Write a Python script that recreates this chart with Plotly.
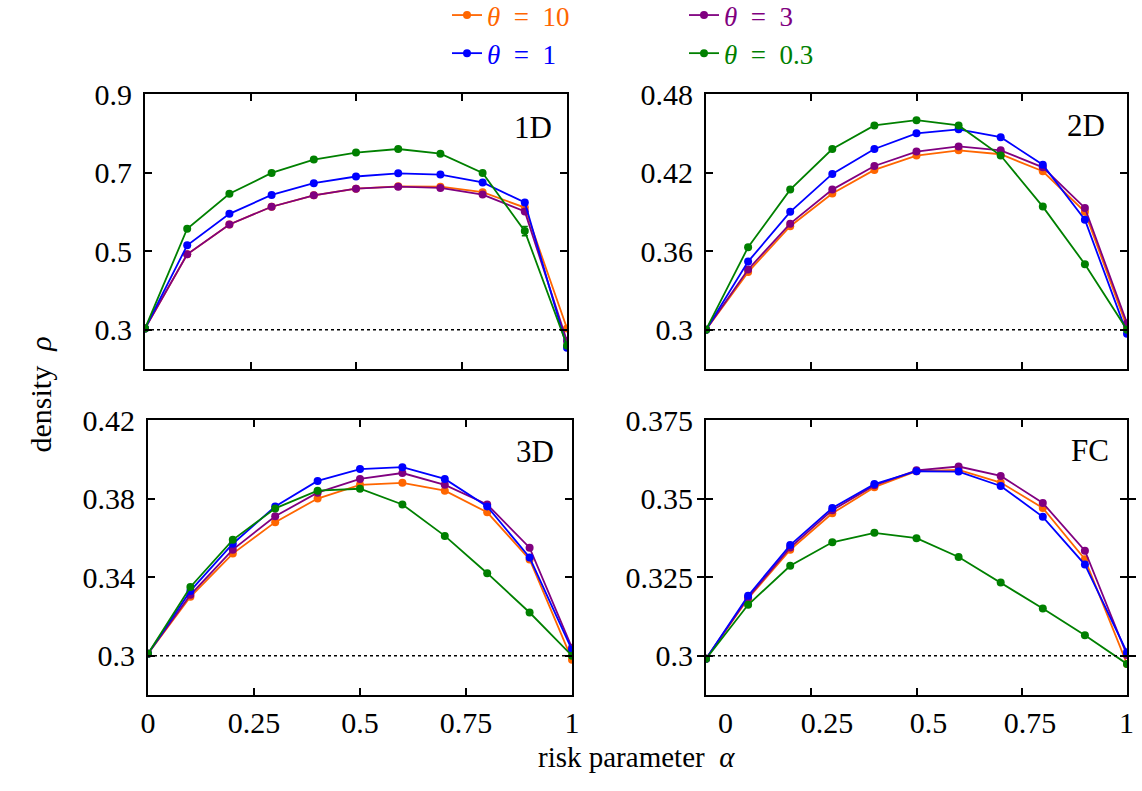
import plotly.graph_objects as go

W, H = 1142, 791

alpha = [0.0, 0.1, 0.2, 0.3, 0.4, 0.5, 0.6, 0.7, 0.8, 0.9, 1.0]

# 1D
d1_t10 = [0.303, 0.492, 0.568, 0.613, 0.642, 0.659, 0.665, 0.664, 0.650, 0.611, 0.303]
d1_t3 = [0.303, 0.492, 0.568, 0.613, 0.642, 0.659, 0.664, 0.661, 0.644, 0.601, 0.271]
d1_t1 = [0.303, 0.515, 0.595, 0.643, 0.673, 0.690, 0.698, 0.695, 0.675, 0.624, 0.254]
d1_t03 = [0.303, 0.557, 0.646, 0.699, 0.733, 0.751, 0.760, 0.748, 0.699, 0.551, 0.260]
d1_t03_err = [None, None, None, None, None, None, None, None, None, 0.012, None]

# 2D
d2_t10 = [0.300, 0.344, 0.379, 0.404, 0.422, 0.433, 0.437, 0.434, 0.421, 0.390, 0.302]
d2_t3 = [0.300, 0.346, 0.381, 0.407, 0.425, 0.436, 0.440, 0.437, 0.424, 0.393, 0.305]
d2_t1 = [0.300, 0.352, 0.390, 0.419, 0.438, 0.450, 0.453, 0.447, 0.426, 0.384, 0.297]
d2_t03 = [0.300, 0.363, 0.407, 0.438, 0.456, 0.460, 0.456, 0.433, 0.394, 0.350, 0.300]

# 3D
d3_t10 = [0.301, 0.330, 0.352, 0.368, 0.380, 0.387, 0.388, 0.384, 0.373, 0.349, 0.298]
d3_t3 = [0.301, 0.331, 0.354, 0.371, 0.383, 0.390, 0.393, 0.387, 0.377, 0.355, 0.304]
d3_t1 = [0.301, 0.333, 0.357, 0.376, 0.389, 0.395, 0.396, 0.390, 0.376, 0.350, 0.303]
d3_t03 = [0.301, 0.335, 0.359, 0.375, 0.384, 0.385, 0.377, 0.361, 0.342, 0.322, 0.300]

# FC
fc_t10 = [0.299, 0.3182, 0.3337, 0.3453, 0.3536, 0.3587, 0.3591, 0.3551, 0.3470, 0.3307, 0.2974]
fc_t3 = [0.299, 0.3185, 0.3344, 0.3463, 0.3542, 0.3590, 0.3602, 0.3572, 0.3486, 0.3334, 0.3002]
fc_t1 = [0.299, 0.3191, 0.3352, 0.3470, 0.3546, 0.3587, 0.3586, 0.3540, 0.3442, 0.3290, 0.3011]
fc_t03 = [0.299, 0.3162, 0.3286, 0.3361, 0.3391, 0.3374, 0.3314, 0.3233, 0.3150, 0.3065, 0.2974]

panel_labels = ["1D", "2D", "3D", "FC"]
x_ticks = [0, 0.25, 0.5, 0.75, 1]
x_ticktext = ["0", "0.25", "0.5", "0.75", "1"]
# the FC panel's labels in the reference are slightly shifted from its tick marks
fc_label_vals = [0, 0.25, 0.5, 0.75, 0.988]
y_ticks = [[0.3, 0.5, 0.7, 0.9], [0.3, 0.36, 0.42, 0.48],
           [0.3, 0.34, 0.38, 0.42], [0.3, 0.325, 0.35, 0.375]]
y_ticktext = [["0.3", "0.5", "0.7", "0.9"], ["0.3", "0.36", "0.42", "0.48"],
              ["0.3", "0.34", "0.38", "0.42"], ["0.3", "0.325", "0.35", "0.375"]]
y_ranges = [[0.2, 0.9], [0.27, 0.48], [0.28, 0.42], [0.2875, 0.375]]

theta_names = ["10", "3", "1", "0.3"]
colors = ["#ff6600", "#800080", "#0000ff", "#008000"]
legend_ids = ["legend", "legend2", "legend", "legend2"]

panels = [
    [d1_t10, d1_t3, d1_t1, d1_t03],
    [d2_t10, d2_t3, d2_t1, d2_t03],
    [d3_t10, d3_t3, d3_t1, d3_t03],
    [fc_t10, fc_t3, fc_t1, fc_t03],
]

FONT = "Liberation Serif"
TICK_SIZE = 30
SP = "\u2002"


def px_x(a, b):
    return [a / W, b / W]


def px_y(top, bottom):
    return [1 - bottom / H, 1 - top / H]


x_domains = [px_x(145, 567), px_x(706, 1127), px_x(148, 572), px_x(706, 1127)]
y_domains = [px_y(94, 369), px_y(94, 369), px_y(420, 695), px_y(420, 695)]
label_pos = [(0.97, 0.88), (0.952, 0.885), (0.962, 0.885), (0.962, 0.89)]

fig = go.Figure()

for p, series in enumerate(panels):
    xa = "x" if p == 0 else f"x{p+1}"
    ya = "y" if p == 0 else f"y{p+1}"
    for s, vals in enumerate(series):
        err = None
        if p == 0 and s == 3:
            err = dict(type="data", array=d1_t03_err, visible=True,
                       color=colors[s], thickness=1.5, width=3)
        fig.add_trace(go.Scatter(
            x=alpha, y=vals, xaxis=xa, yaxis=ya,
            mode="lines+markers",
            line=dict(color=colors[s], width=1.8),
            marker=dict(color=colors[s], size=8),
            error_y=err,
            name=f'<span style="color:{colors[s]}"><i>θ</i>{SP}={SP}{theta_names[s]}</span>',
            legend=legend_ids[s],
            showlegend=(p == 0),
        ))

# empty carrier so the FC label axis (overlaying x4) is drawn
fig.add_trace(go.Scatter(x=[], y=[], xaxis="x5", yaxis="y4", showlegend=False,
                         hoverinfo="skip"))

axis_common = dict(
    showline=True, linecolor="black", linewidth=2, mirror="allticks",
    ticks="inside", ticklen=7, tickwidth=1.5, tickcolor="black",
    showgrid=False, zeroline=False,
    tickfont=dict(family=FONT, size=TICK_SIZE, color="black"),
)

layout = dict(
    width=W, height=H,
    margin=dict(l=0, r=0, t=0, b=0, autoexpand=False),
    paper_bgcolor="white", plot_bgcolor="white",
    font=dict(family=FONT, size=TICK_SIZE, color="black"),
)

for p in range(4):
    xk = "xaxis" if p == 0 else f"xaxis{p+1}"
    yk = "yaxis" if p == 0 else f"yaxis{p+1}"
    ya = "y" if p == 0 else f"y{p+1}"
    xa = "x" if p == 0 else f"x{p+1}"
    layout[xk] = dict(axis_common, domain=x_domains[p], range=[0, 1], anchor=ya,
                      tickvals=x_ticks, ticktext=x_ticktext,
                      showticklabels=(p == 2), ticklabelstandoff=0)
    layout[yk] = dict(axis_common, domain=y_domains[p], range=y_ranges[p], anchor=xa,
                      tickvals=y_ticks[p], ticktext=y_ticktext[p],
                      ticklabelstandoff=5)

fc_lab_range = [(706 - 725.5) / 406.5, (1127.5 - 725.5) / 406.5]
layout["xaxis5"] = dict(overlaying="x4", range=fc_lab_range, anchor="y4", side="bottom",
                        showline=False, ticks="", showgrid=False, zeroline=False,
                        tickvals=fc_label_vals, ticktext=x_ticktext, ticklabelstandoff=7,
                        tickfont=dict(family=FONT, size=TICK_SIZE, color="black"))

fig.update_layout(**layout)

shapes = []
annotations = []
for p in range(4):
    xa = "x" if p == 0 else f"x{p+1}"
    ya = "y" if p == 0 else f"y{p+1}"
    shapes.append(dict(type="line", xref=f"{xa} domain", yref=ya,
                       x0=0, x1=1, y0=0.3, y1=0.3,
                       line=dict(color="black", width=1.5, dash="dot")))
    annotations.append(dict(text=panel_labels[p], xref=f"{xa} domain", yref=f"{ya} domain",
                            x=label_pos[p][0], y=label_pos[p][1],
                            xanchor="right", yanchor="middle", showarrow=False,
                            font=dict(family=FONT, size=31, color="black")))

annotations.append(dict(text=f"density{SP}<i>ρ</i>", xref="paper", yref="paper",
                        x=40 / W, y=1 - 394.5 / H, textangle=-90, showarrow=False,
                        xanchor="center", yanchor="middle",
                        font=dict(family=FONT, size=30, color="black")))
annotations.append(dict(text=f"risk parameter{SP}<i>α</i>", xref="paper", yref="paper",
                        x=636.5 / W, y=1 - 757 / H, showarrow=False,
                        xanchor="center", yanchor="middle",
                        font=dict(family=FONT, size=29, color="black")))

fig.update_layout(
    shapes=shapes, annotations=annotations,
    legend=dict(x=447 / W, y=1 + 9 / H, xanchor="left", yanchor="top",
                orientation="v", bgcolor="rgba(0,0,0,0)", tracegroupgap=0,
                font=dict(family=FONT, size=27), itemwidth=30),
    legend2=dict(x=684 / W, y=1 + 9 / H, xanchor="left", yanchor="top",
                 orientation="v", bgcolor="rgba(0,0,0,0)", tracegroupgap=0,
                 font=dict(family=FONT, size=27), itemwidth=30),
)

fig.write_html("out.html")
